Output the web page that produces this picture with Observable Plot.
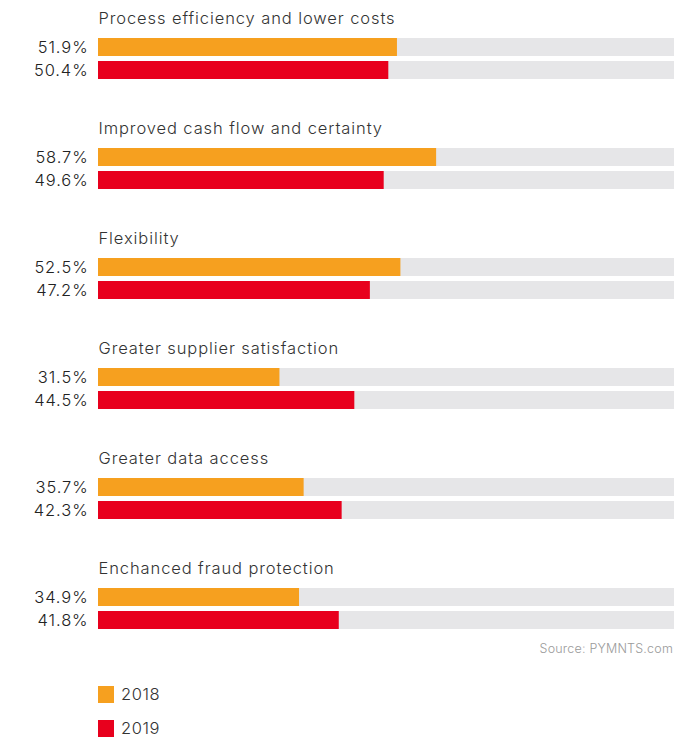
<!DOCTYPE html>
<html><head><meta charset="utf-8">
<script src="https://cdn.jsdelivr.net/npm/d3@7"></script>
<script src="https://cdn.jsdelivr.net/npm/@observablehq/plot@0.6"></script>
<style>
body{margin:0;background:#fff;font-family:Inter,sans-serif;}
#wrap{width:687px;height:739px;position:relative;overflow:hidden;}
#chart{position:absolute;left:0;top:0;}
.source{position:absolute;top:641px;right:14px;font-size:12.5px;line-height:16px;color:#9a9a9a;font-weight:300;letter-spacing:0.2px;}
.item{position:absolute;left:98px;display:flex;align-items:center;font-size:16.5px;line-height:17px;color:#333;font-weight:300;letter-spacing:0.6px;}
.sw{width:16px;height:17px;margin-right:7px;}
</style></head><body>
<div id="wrap"><div id="chart"></div>
<div class="source">Source: PYMNTS.com</div>
<div id="legend"></div></div>
<script>
const categories = ["Process efficiency and lower costs","Improved cash flow and certainty","Flexibility","Greater supplier satisfaction","Greater data access","Enchanced fraud protection"];
const years = ["2018","2019"];
const values2018 = [51.9, 58.7, 52.5, 31.5, 35.7, 34.9];
const values2019 = [50.4, 49.6, 47.2, 44.5, 42.3, 41.8];
const colors = ["#f6a01f","#e8001d"];

const rows = categories.flatMap((c,i)=>[
  {category:c, year:"2018", value: values2018[i]},
  {category:c, year:"2019", value: values2019[i]}
]);

const chart = Plot.plot({
  width:687, height:640, marginLeft:98, marginRight:13, marginTop:0, marginBottom:0,
  style:{fontFamily:"Inter, sans-serif", background:"#fff", letterSpacing:"0.9px"},
  x:{domain:[0,100], axis:null},
  y:{domain:years, range:[37,78.5], paddingInner:0.23, paddingOuter:0, axis:null},
  fy:{domain:categories, range:[0,661.2], padding:0, axis:null},
  color:{domain:years, range:colors},
  marks:[
    Plot.barX(rows,{fy:"category", y:"year", x1:0, x2:100, fill:"#e6e6e8"}),
    Plot.barX(rows,{fy:"category", y:"year", x1:0, x2:"value", fill:"year"}),
    Plot.text(rows,{fy:"category", y:"year", x:0, text:d=>d.value.toFixed(1)+"%", textAnchor:"end", dx:-10, fontSize:16.5, fontWeight:300, fill:"#222"}),
    Plot.text(categories,{fy:d=>d, y:d=>"2018", x:0, text:d=>d, textAnchor:"start", dy:-28.5, fontSize:16.5, fontWeight:300, fill:"#333"})
  ]
});
document.getElementById("chart").appendChild(chart);

const legend = document.getElementById("legend");
years.forEach((y,i)=>{
  const it = document.createElement("div");
  it.className = "item";
  it.style.top = (686 + i*34) + "px";
  it.innerHTML = `<span class="sw" style="background:${colors[i]}"></span><span>${y}</span>`;
  legend.appendChild(it);
});
</script>
</body></html>
